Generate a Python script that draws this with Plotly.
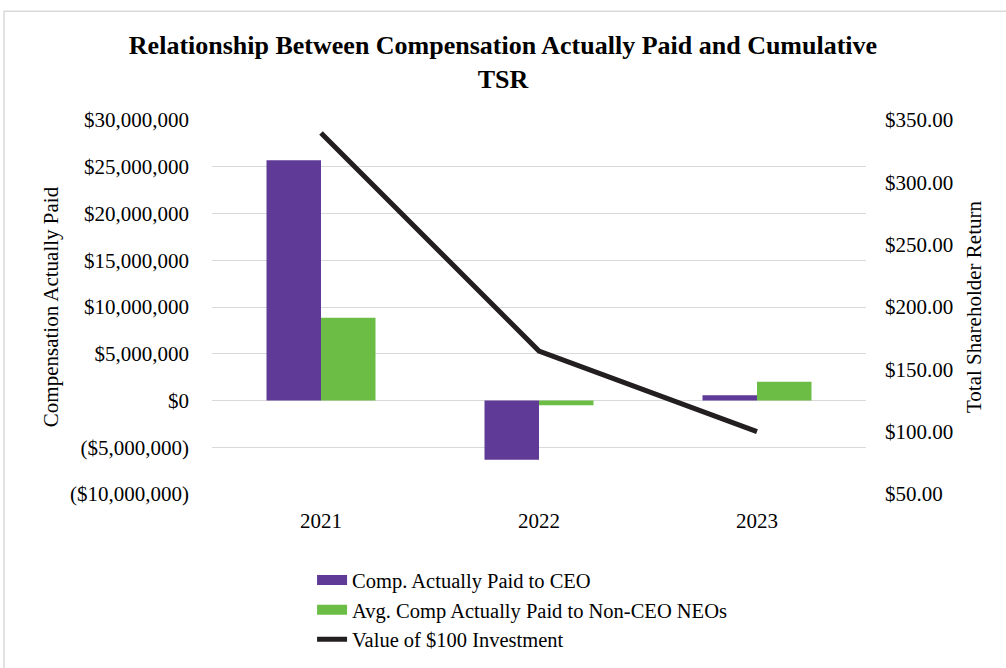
import plotly.graph_objects as go

years = ["2021", "2022", "2023"]
ceo_cap = [25700000, -6350000, 560000]
neo_cap = [8850000, -500000, 2000000]
tsr = [339.6, 164.7, 100.0]

left_ticks = [-10000000, -5000000, 0, 5000000, 10000000, 15000000, 20000000, 25000000, 30000000]
left_labels = ["($10,000,000)", "($5,000,000)", "$0", "$5,000,000", "$10,000,000",
               "$15,000,000", "$20,000,000", "$25,000,000", "$30,000,000"]
right_ticks = [50, 100, 150, 200, 250, 300, 350]
right_labels = ["$50.00", "$100.00", "$150.00", "$200.00", "$250.00", "$300.00", "$350.00"]

FONT = "Liberation Serif, Times New Roman, serif"
PURPLE = "#5f3a96"
GREEN = "#6cbd46"
BLACK = "#231f20"

fig = go.Figure()
fig.add_trace(go.Bar(x=years, y=ceo_cap, name="Comp. Actually Paid to CEO",
                     marker=dict(color=PURPLE, line=dict(width=0)), showlegend=False))
fig.add_trace(go.Bar(x=years, y=neo_cap, name="Avg. Comp Actually Paid to Non-CEO NEOs",
                     marker=dict(color=GREEN, line=dict(width=0)), showlegend=False))
fig.add_trace(go.Scatter(x=years, y=tsr, name="Value of $100 Investment", mode="lines",
                         line=dict(color=BLACK, width=5), yaxis="y2", showlegend=False))
# legend entries (wide swatches like the original)
fig.add_trace(go.Scatter(x=[None], y=[None], mode="lines", name="Comp. Actually Paid to CEO",
                         line=dict(color=PURPLE, width=13)))
fig.add_trace(go.Scatter(x=[None], y=[None], mode="lines", name="Avg. Comp Actually Paid to Non-CEO NEOs",
                         line=dict(color=GREEN, width=13)))
fig.add_trace(go.Scatter(x=[None], y=[None], mode="lines", name="Value of $100 Investment",
                         line=dict(color=BLACK, width=5)))

fig.update_layout(
    width=1006, height=668,
    margin=dict(l=212, r=140, t=120, b=174, autoexpand=False),
    paper_bgcolor="white", plot_bgcolor="white",
    font=dict(family=FONT, size=21, color="#000000"),
    title=dict(text="<b>Relationship Between Compensation Actually Paid and Cumulative<br>TSR</b>",
               x=0.5, xanchor="center", y=0.9195, yanchor="middle",
               font=dict(family=FONT, size=26, color="#000000")),
    barmode="group", bargap=0.5, bargroupgap=0,
    xaxis=dict(showgrid=False, showline=False, ticks="", tickfont=dict(size=21),
               automargin=False, ticklabelstandoff=12),
    yaxis=dict(range=[-10000000, 30000000], tickvals=left_ticks, ticktext=left_labels,
               showgrid=True, gridcolor="#d9d9d9", gridwidth=1, zeroline=False,
               automargin=False, tickfont=dict(size=21),
               title=dict(text="Compensation Actually Paid", font=dict(size=21), standoff=5),
               ticklabelstandoff=22),
    yaxis2=dict(range=[50, 350], tickvals=right_ticks, ticktext=right_labels,
                overlaying="y", side="right", showgrid=False, zeroline=False,
                automargin=False, tickfont=dict(size=21),
                title=dict(text="Total Shareholder Return", font=dict(size=21), standoff=14),
                ticklabelstandoff=18),
    legend=dict(x=0.153, xanchor="left", y=-0.177, yanchor="top", orientation="v",
                font=dict(size=20.5), tracegroupgap=0, bgcolor="rgba(0,0,0,0)"),
    showlegend=True,
)

fig.add_shape(type="rect", xref="paper", yref="paper",
              x0=-0.318, x1=1.22, y0=-0.47, y1=1.291,
              line=dict(color="#d9d9d9", width=1.5), fillcolor="rgba(0,0,0,0)", layer="below")

fig.write_html("out.html", config={"displayModeBar": False},
               post_script="document.body.style.margin='0';document.body.style.overflow='hidden';")
